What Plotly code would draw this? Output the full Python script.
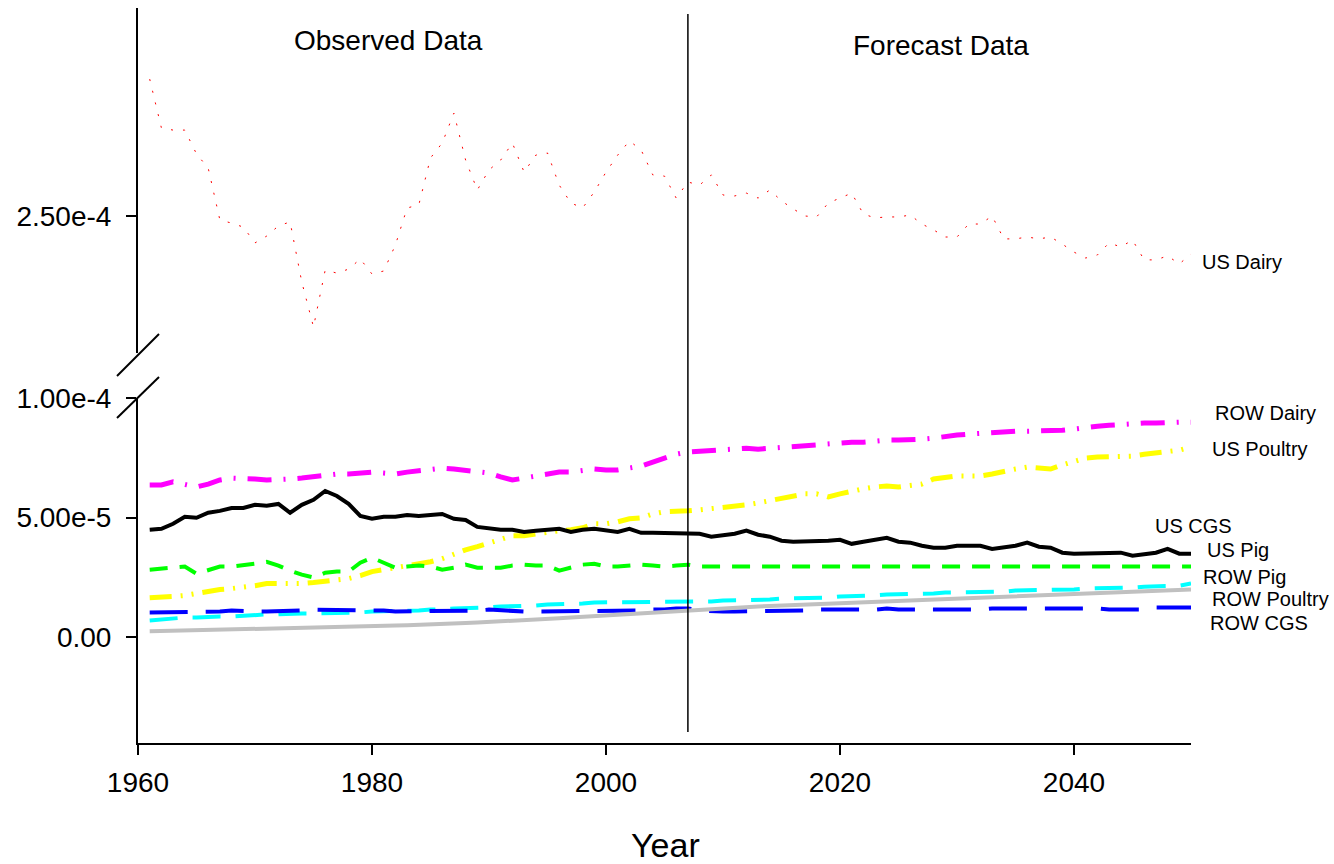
import plotly.graph_objects as go

# ---------------- data (values in units of 1e-6) ----------------
years = list(range(1961, 2051))

us_dairy = [308.0, 287.3, 286.4, 286.4, 276.3, 270.3, 248.3, 247.0, 245.3, 238.6,
            241.5, 245.8, 247.5, 222.0, 203.0, 227.1, 225.8, 227.5, 231.8, 225.4,
            226.7, 237.7, 253.4, 254.7, 274.6, 280.9, 293.6, 273.7, 261.0, 269.5,
            273.7, 280.9, 268.6, 275.8, 276.7, 263.1, 255.5, 253.4, 260.2, 268.6,
            275.8, 281.8, 278.0, 267.4, 266.9, 257.6, 264.4, 263.1, 267.4, 258.9,
            258.5, 259.7, 257.6, 261.0, 256.4, 253.0, 250.0, 249.6, 255.5, 257.6,
            259.7, 250.8, 249.2, 249.6, 249.6, 250.4, 246.6, 244.1, 241.1, 241.1,
            246.6, 246.6, 250.0, 240.3, 240.3, 241.1, 240.3, 241.1, 238.1, 234.7,
            232.2, 233.5, 238.6, 236.9, 239.8, 231.4, 231.4, 233.1, 229.7, 233.9]

row_dairy = [63.6, 63.6, 64.9, 63.6, 62.8, 64.0, 65.7, 66.5, 66.5, 66.1,
             65.7, 65.7, 66.1, 66.5, 67.0, 67.8, 68.2, 68.2, 68.6, 69.0,
             68.6, 68.2, 69.0, 69.5, 70.3, 70.7, 70.3, 69.9, 69.5, 68.6,
             67.0, 65.7, 66.5, 67.4, 68.6, 69.0, 69.0, 69.5, 70.3, 69.9,
             69.9, 70.7, 71.5, 73.2, 74.9, 76.5, 77.4, 77.8, 78.2, 78.6,
             79.0, 79.0, 78.6, 79.0, 79.5, 79.5, 80.3, 80.7, 80.7, 81.1,
             81.5, 81.5, 82.0, 82.4, 82.4, 82.4, 82.8, 83.2, 84.0, 84.5,
             84.9, 85.3, 85.3, 85.7, 86.1, 86.1, 86.1, 86.5, 86.5, 87.0,
             87.8, 88.2, 88.6, 89.0, 89.0, 89.5, 89.5, 89.9, 89.9, 89.9]

us_poultry = [16.5, 16.5, 17.0, 17.4, 18.2, 19.5, 19.9, 20.3, 20.7, 21.5,
              22.4, 22.4, 22.0, 22.4, 22.8, 23.2, 23.6, 24.5, 25.7, 27.4,
              28.2, 29.0, 29.5, 30.3, 31.5, 32.8, 34.9, 36.5, 37.8, 39.5,
              41.1, 42.4, 42.4, 43.2, 44.0, 44.5, 44.9, 45.7, 47.4, 47.4,
              48.2, 49.5, 49.9, 51.5, 52.4, 52.4, 52.8, 53.2, 53.6, 54.0,
              54.9, 55.3, 56.1, 57.0, 57.8, 58.6, 59.9, 59.9, 58.6, 59.9,
              61.1, 62.0, 62.8, 63.2, 62.8, 63.2, 64.0, 66.1, 67.0, 67.4,
              67.4, 67.4, 68.2, 69.5, 70.3, 71.1, 70.7, 70.3, 72.0, 73.2,
              74.9, 75.3, 75.3, 75.3, 75.7, 76.5, 77.0, 77.4, 78.2, 79.5]

us_cgs = [44.9, 45.3, 47.4, 50.3, 49.9, 52.0, 52.8, 54.0, 54.0, 55.3,
          54.9, 55.7, 52.0, 55.3, 57.4, 61.1, 59.0, 55.7, 50.7, 49.5,
          50.3, 50.3, 51.1, 50.7, 51.1, 51.5, 49.5, 49.0, 46.1, 45.3,
          44.9, 44.9, 44.0, 44.5, 44.9, 45.3, 44.0, 44.9, 45.3, 44.5,
          44.0, 45.3, 43.6, 43.6, 43.6, 43.2, 43.2, 43.2, 42.0, 42.4,
          43.2, 44.5, 42.8, 42.0, 40.3, 39.9, 39.9, 39.9, 40.3, 40.7,
          39.0, 39.9, 40.7, 41.5, 39.9, 39.5, 38.2, 37.4, 37.4, 38.2,
          38.2, 38.2, 36.9, 37.4, 38.2, 39.5, 37.8, 37.4, 35.3, 34.9,
          34.9, 35.3, 35.3, 35.3, 34.0, 34.5, 35.3, 36.9, 34.9, 34.9]

us_pig = [28.2, 28.6, 29.0, 29.5, 26.5, 27.8, 29.5, 29.5, 29.9, 30.7,
          31.5, 29.9, 27.8, 26.1, 24.9, 26.9, 27.4, 27.4, 31.1, 33.2,
          31.1, 29.0, 29.5, 29.9, 29.5, 28.2, 29.0, 30.3, 29.0, 29.0,
          29.0, 29.9, 30.3, 29.9, 29.9, 27.8, 29.0, 30.3, 30.7, 29.5,
          29.5, 29.9, 30.3, 29.9, 29.5, 29.9, 30.3, 29.5, 29.5, 29.5,
          29.5, 29.5, 29.5, 29.5, 29.5, 29.5, 29.5, 29.5, 29.5, 29.5,
          29.5, 29.5, 29.5, 29.5, 29.5, 29.5, 29.5, 29.5, 29.5, 29.5,
          29.5, 29.5, 29.5, 29.5, 29.5, 29.5, 29.5, 29.5, 29.5, 29.5,
          29.5, 29.5, 29.5, 29.5, 29.5, 29.5, 29.5, 29.5, 29.5, 29.5]

row_pig = [6.9, 7.4, 7.8, 8.2, 8.2, 8.6, 8.6, 8.6, 9.0, 9.0,
           9.5, 9.5, 9.9, 9.9, 9.9, 9.9, 9.9, 10.3, 10.3, 10.7,
           10.7, 10.7, 11.1, 11.1, 11.5, 11.5, 12.0, 12.0, 12.4, 12.4,
           12.8, 12.8, 13.2, 13.2, 13.6, 13.6, 13.6, 14.0, 14.5, 14.5,
           14.5, 14.5, 14.5, 14.5, 14.9, 14.5, 14.5, 14.9, 14.9, 15.3,
           15.3, 15.7, 15.7, 15.7, 16.1, 16.1, 16.5, 16.5, 16.5, 17.0,
           17.0, 17.4, 17.4, 17.8, 17.8, 18.2, 18.2, 18.2, 18.6, 18.6,
           19.0, 19.0, 19.0, 19.0, 19.5, 19.5, 19.5, 19.5, 19.9, 19.9,
           20.3, 20.3, 20.7, 20.7, 20.7, 21.1, 21.1, 21.5, 21.5, 22.4]

row_poultry = [2.4, 2.5, 2.5, 2.6, 2.7, 2.8, 2.9, 3.0, 3.1, 3.2,
               3.3, 3.5, 3.6, 3.7, 3.9, 4.0, 4.2, 4.3, 4.4, 4.5,
               4.7, 4.8, 5.0, 5.1, 5.3, 5.5, 5.7, 5.9, 6.1, 6.3,
               6.5, 6.8, 7.0, 7.3, 7.6, 7.9, 8.2, 8.5, 8.8, 9.1,
               9.4, 9.7, 10.0, 10.4, 10.7, 11.0, 11.4, 11.6, 11.8, 12.1,
               12.3, 12.5, 12.8, 13.0, 13.2, 13.4, 13.6, 13.8, 14.0, 14.2,
               14.4, 14.6, 14.8, 15.0, 15.3, 15.4, 15.6, 15.8, 16.0, 16.2,
               16.4, 16.5, 16.8, 16.9, 17.1, 17.3, 17.5, 17.7, 17.9, 18.0,
               18.3, 18.4, 18.6, 18.8, 19.0, 19.2, 19.4, 19.5, 19.8, 19.9]

row_cgs = [10.3, 10.3, 10.7, 10.3, 10.3, 10.7, 10.7, 11.1, 10.7, 10.7,
           10.7, 10.7, 11.1, 11.1, 11.5, 11.5, 11.5, 11.5, 11.5, 11.1,
           11.1, 10.7, 10.7, 10.7, 10.7, 10.7, 10.7, 10.7, 11.1, 11.5,
           11.1, 10.7, 10.7, 10.7, 10.7, 10.7, 10.7, 10.7, 10.7, 10.7,
           10.7, 11.1, 11.1, 11.5, 11.5, 12.0, 12.0, 11.1, 10.7, 10.7,
           10.7, 10.7, 11.1, 11.1, 11.1, 11.1, 11.1, 11.5, 11.5, 11.5,
           11.5, 11.5, 11.5, 12.0, 11.5, 11.5, 11.5, 11.5, 11.5, 11.5,
           11.5, 11.5, 12.0, 12.0, 12.0, 12.0, 12.0, 12.0, 12.0, 12.0,
           12.0, 12.0, 11.5, 11.5, 11.5, 11.5, 12.4, 12.4, 12.4, 12.4]

UNIT = 1e-6
split_year = 2007
x_ticks = [1960, 1980, 2000, 2020, 2040]
lower_ticks = [0.0, 5e-5, 1e-4]
lower_tick_text = ["0.00", "5.00e-5", "1.00e-4"]
upper_ticks = [2.5e-4]
upper_tick_text = ["2.50e-4"]

label_names = ["US Dairy", "ROW Dairy", "US Poultry", "US CGS",
               "US Pig", "ROW Pig", "ROW Poultry", "ROW CGS"]
label_vals = [230.5, 93.6, 78.6, 46.5, 36.5, 25.3, 16.1, 5.7]

FONT = "Liberation Sans, Arial, sans-serif"

def scale(vals):
    return [v * UNIT for v in vals]

fig = go.Figure()

# US Dairy on upper (broken) axis
fig.add_trace(go.Scatter(x=years, y=scale(us_dairy), yaxis="y2", mode="lines",
                         line=dict(color="#ff0000", width=1, dash="2px,10px"),
                         name="US Dairy"))

series = [
    ("ROW Dairy", row_dairy, "#ff00ff", 5, "24px,12px,2px,12px"),
    ("US Poultry", us_poultry, "#ffff00", 5, "22px,9px,2px,9px,2px,9px"),
    ("US Pig", us_pig, "#00ff00", 4, "18px,12px"),
    ("ROW Pig", row_pig, "#00ffff", 4, "28px,15px"),
    ("ROW CGS", row_cgs, "#0000ff", 4, "38px,18px"),
    ("ROW Poultry", row_poultry, "#c0c0c0", 4, "solid"),
    ("US CGS", us_cgs, "#000000", 4, "solid"),
]
for name, vals, col, w, dash in series:
    fig.add_trace(go.Scatter(x=years, y=scale(vals), yaxis="y", mode="lines",
                             line=dict(color=col, width=w, dash=dash), name=name))

axis_common = dict(showline=True, linecolor="black", linewidth=2,
                   ticks="outside", ticklen=10, tickwidth=2, tickcolor="black",
                   showgrid=False, zeroline=False, automargin=False,
                   tickfont=dict(family=FONT, size=28, color="black"))

lower_dom_top = (743 - 398) / 735
upper_dom_bot = (743 - 353) / 735

fig.update_layout(
    width=1334, height=864,
    margin=dict(l=138, r=143, t=8, b=121, autoexpand=False),
    paper_bgcolor="white", plot_bgcolor="white",
    showlegend=False,
    xaxis=dict(range=[1960, 2050], tickvals=x_ticks, anchor="y",
               ticklabelstandoff=3, **axis_common),
    yaxis=dict(domain=[0, lower_dom_top], range=[-44.3e-6, 100.0e-6],
               tickvals=lower_ticks, ticktext=lower_tick_text, anchor="x",
               ticklabelstandoff=9, **axis_common),
    yaxis2=dict(domain=[upper_dom_bot, 1], range=[191.95e-6, 338.13e-6],
                tickvals=upper_ticks, ticktext=upper_tick_text, anchor="x",
                ticklabelstandoff=9, **axis_common),
)

# forecast split line
fig.add_shape(type="line", xref="x", yref="paper", x0=split_year, x1=split_year,
              y0=(743 - 732) / 735, y1=(743 - 14) / 735,
              line=dict(color="black", width=1.5))

# axis break marks
W = 1053.0
for (xa, ya, xb, yb) in [(117, 376, 159, 334), (117, 418, 159, 377)]:
    fig.add_shape(type="line", xref="paper", yref="paper",
                  x0=(xa - 138) / W, y0=(743 - ya) / 735,
                  x1=(xb - 138) / W, y1=(743 - yb) / 735,
                  line=dict(color="black", width=2))

# section titles
for txt, px, py, sz in [("Observed Data", 388, 40, 28),
                        ("Forecast Data", 941, 45, 28),
                        ("Year", 665, 845, 34)]:
    fig.add_annotation(text=txt, xref="paper", yref="paper",
                       x=(px - 138) / W, y=(743 - py) / 735,
                       xanchor="center", yanchor="middle", showarrow=False,
                       font=dict(family=FONT, size=sz, color="black"))

# series labels at right (left edge pixel positions)
label_left_px = [1200, 1213, 1210, 1153, 1205, 1201, 1210, 1208]
for txt, val, lpx in zip(label_names, label_vals, label_left_px):
    fig.add_annotation(text=txt, x=(lpx - 138) / W, y=val * UNIT,
                       xref="paper", yref="y2" if txt == "US Dairy" else "y",
                       xanchor="left", yanchor="middle", showarrow=False,
                       font=dict(family=FONT, size=20, color="black"))

fig.write_html("out.html")
